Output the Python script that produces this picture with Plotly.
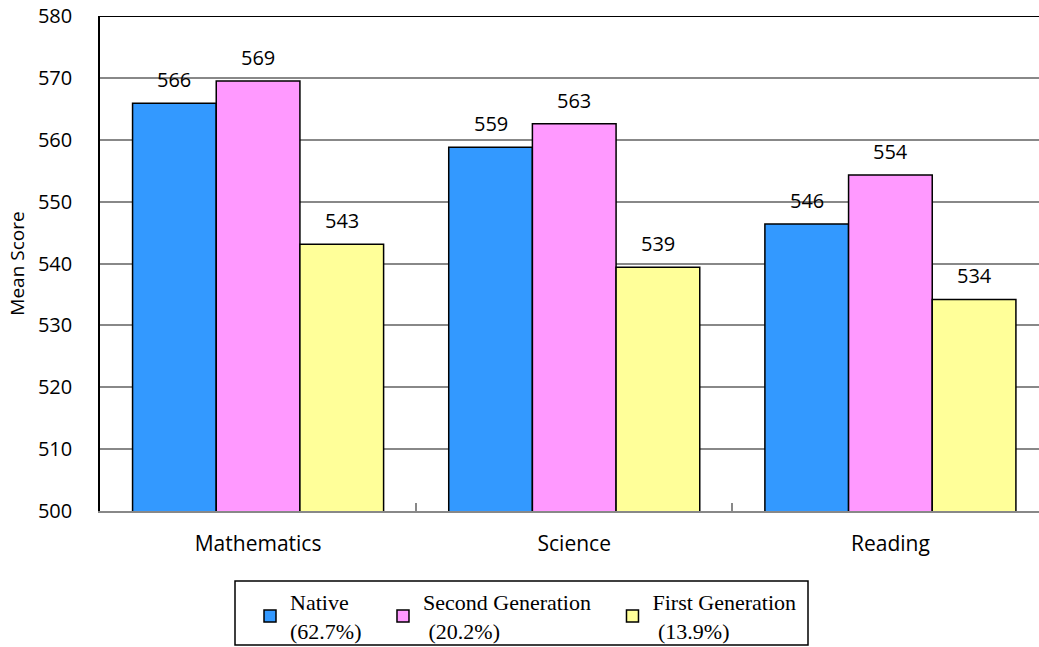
import plotly.graph_objects as go

categories = ["Mathematics", "Science", "Reading"]
series_names = ["Native<br>(62.7%)   ", "Second Generation   <br> (20.2%)", "First Generation<br> (13.9%)"]
native = [565.9, 558.8, 546.4]
second_gen = [569.5, 562.6, 554.3]
first_gen = [543.1, 539.4, 534.2]
labels_native = ["566", "559", "546"]
labels_second = ["569", "563", "554"]
labels_first = ["543", "539", "534"]
colors = ["#3399FF", "#FF99FF", "#FFFF99"]
y_ticks = [500, 510, 520, 530, 540, 550, 560, 570, 580]

values = [native, second_gen, first_gen]
labels = [labels_native, labels_second, labels_first]

W, H = 1039, 647
ml, mr, mt, mb = 100, 0, 16, 136
bargap = 0.206
x_range = [-0.5, 2.47]
FONT = "Open Sans, Lato, sans-serif"

fig = go.Figure()
for name, vals, col in zip(series_names, values, colors):
    fig.add_trace(go.Bar(
        x=categories, y=vals, name=name,
        marker=dict(color=col, line=dict(color="black", width=1.5)),
    ))

# data labels above bars
plot_w = W - ml - mr
plot_h = H - mt - mb
cat_px = plot_w / (x_range[1] - x_range[0])
bar_px = cat_px * (1 - bargap) / 3
for i, (vals, labs) in enumerate(zip(values, labels)):
    for c, v, t in zip(categories, vals, labs):
        fig.add_annotation(x=c, y=v, text=t, showarrow=False,
                           xshift=(i - 1) * bar_px, yshift=8, yanchor="bottom",
                           font=dict(family=FONT, size=20, color="black"))

# top border of plot area
fig.add_shape(type="line", xref="paper", yref="y", x0=0, x1=1, y0=580, y1=580,
              line=dict(color="black", width=2))
# legend frame
fig.add_shape(type="rect", xref="paper", yref="paper",
              x0=(235 - ml) / plot_w, x1=(808 - ml) / plot_w,
              y0=-(581 - mt - plot_h) / plot_h, y1=-(645 - mt - plot_h) / plot_h,
              line=dict(color="black", width=1.5), fillcolor="white", layer="below")

fig.update_layout(
    width=W, height=H,
    margin=dict(l=ml, r=mr, t=mt, b=mb, autoexpand=False),
    paper_bgcolor="white", plot_bgcolor="white",
    barmode="group", bargap=bargap, bargroupgap=0,
    font=dict(family=FONT, size=20, color="black"),
    xaxis=dict(range=x_range, showline=True, linecolor="#888888", linewidth=2,
               ticks="inside", tickson="boundaries", ticklen=8, tickcolor="#888888", tickwidth=2,
               showgrid=False, ticklabelstandoff=13,
               tickfont=dict(family=FONT, size=21)),
    yaxis=dict(range=[500, 580], tickvals=y_ticks, showline=True, linecolor="black", linewidth=1.5,
               showgrid=True, gridcolor="#888888", gridwidth=1.5, zeroline=False,
               ticks="", ticklabelstandoff=22, ticklabeloverflow="allow",
               tickfont=dict(family=FONT, size=20),
               title=dict(text="Mean Score", standoff=8,
                          font=dict(family=FONT, size=19))),
    legend=dict(orientation="h", x=150 / plot_w, xanchor="left",
                y=-(581 - mt - plot_h) / plot_h, yanchor="top",
                borderwidth=0, bgcolor="rgba(0,0,0,0)",
                font=dict(family="Liberation Serif, Times New Roman, serif", size=22),
                itemwidth=30, tracegroupgap=0),
    showlegend=True,
)

fig.write_html("out.html", config={"displayModeBar": False},
               post_script="document.body.style.margin='0';document.body.style.overflow='hidden';")
